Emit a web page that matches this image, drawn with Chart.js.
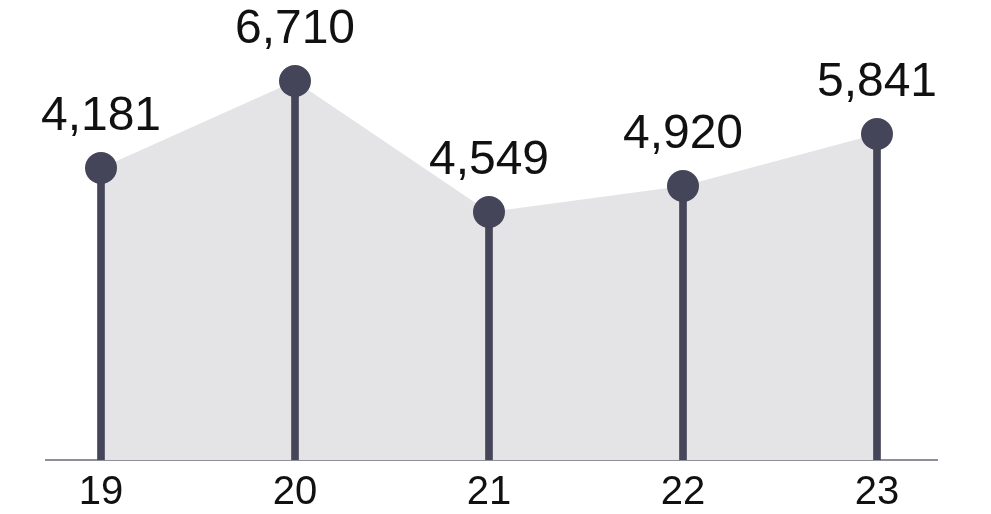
<!DOCTYPE html>
<html>
<head>
<meta charset="utf-8">
<script src="https://cdn.jsdelivr.net/npm/chart.js@4/dist/chart.umd.min.js"></script>
<style>
  html, body { margin: 0; padding: 0; background: #fff; }
  #wrap { width: 991px; height: 514px; }
</style>
</head>
<body>
<div id="wrap"><canvas id="myChart"></canvas></div>
<script>
// years shown on the axis
var years = [19, 20, 21, 22, 23];
// values printed above each point
var values = [4181, 6710, 4549, 4920, 5841];
// height of each point as drawn in the picture (baseline = 0)
var heights = [292, 379, 248, 274, 326];

var stemColor = '#444559';

var pts = years.map(function (y, i) { return { x: y, y: heights[i] }; });

// numbers above the dots
var valueLabels = {
    id: 'valueLabels',
    afterDatasetsDraw: function (chart) {
        var ctx = chart.ctx;
        var meta = chart.getDatasetMeta(0);
        ctx.save();
        ctx.font = '48px "Liberation Sans", Arial, sans-serif';
        ctx.fillStyle = '#111111';
        ctx.textAlign = 'center';
        ctx.textBaseline = 'alphabetic';
        meta.data.forEach(function (pt, i) {
            ctx.fillText(values[i].toLocaleString('en-US'), pt.x, pt.y - 38);
        });
        ctx.restore();
    }
};

var ctx = document.getElementById('myChart');
var myChart = new Chart(ctx, {
    data: {
        datasets: [{
            type: 'line',
            data: pts,
            order: 0,
            fill: 'origin',
            backgroundColor: '#e4e4e7',
            borderWidth: 0,
            pointRadius: 16,
            pointHoverRadius: 16,
            pointBackgroundColor: stemColor,
            pointBorderWidth: 0
        }, {
            type: 'bar',
            data: pts,
            order: 1,
            backgroundColor: stemColor,
            barThickness: 7,
            borderWidth: 0
        }]
    },
    options: {
        responsive: true,
        maintainAspectRatio: false,
        animation: false,
        layout: { autoPadding: false, padding: { left: 46, right: 54, top: 0, bottom: 0 } },
        plugins: {
            legend: { display: false },
            tooltip: { enabled: false },
            filler: { drawTime: 'beforeDatasetsDraw' }
        },
        scales: {
            x: {
                type: 'linear',
                min: 18.7165,
                max: 23.3093,
                offset: false,
                grid: { display: false, drawTicks: false },
                border: { display: true, color: '#8f8f99', width: 2 },
                afterBuildTicks: function (scale) {
                    scale.ticks = years.map(function (v) { return { value: v }; });
                },
                afterFit: function (scale) {
                    scale.height = 54;
                },
                ticks: {
                    padding: 13,
                    color: '#111111',
                    font: { family: '"Liberation Sans", Arial, sans-serif', size: 40, lineHeight: 1 },
                    callback: function (v) { return String(v); }
                }
            },
            y: {
                display: false,
                min: 0,
                max: 460
            }
        }
    },
    plugins: [valueLabels]
});
</script>
</body>
</html>
